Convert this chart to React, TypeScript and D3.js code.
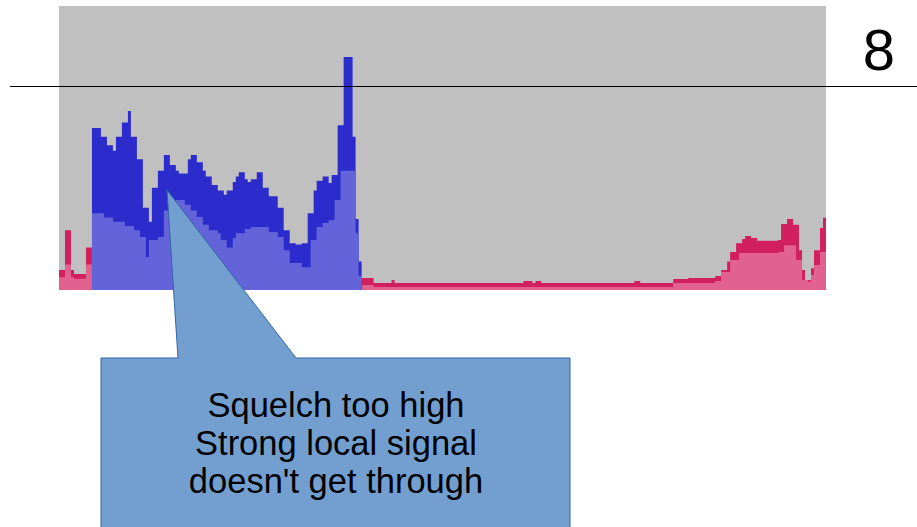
import React from 'react';
import * as d3 from 'd3';

// spectrum bins (0..256) and levels (0..100)
const binCount = 256;

const blueMaxBins = [11, 14, 16, 18, 19, 21, 23, 24, 26, 28, 30, 31, 33, 35, 37, 39, 40, 43, 44, 46, 48, 49, 51, 53, 55, 56, 58, 59, 60, 62, 63, 64, 66, 68, 70, 73, 75, 77, 79, 81, 83, 85, 86, 88, 90, 91, 92, 93, 95, 98, 99, 100, 101];
const blueMaxLevels = [57, 54, 51, 49, 54, 59, 63, 54, 46, 29, 24, 36, 42, 47.5, 44, 42, 41, 46, 47.5, 45, 42, 40, 37, 35, 33.5, 35, 38, 40, 41.5, 39, 38, 39, 41.5, 36, 33, 29, 21, 16.5, 16, 16.5, 27, 35, 38.5, 40, 37.7, 40.5, 40.5, 58, 82, 54, 25, 10, 0];

const blueAvgBins = [11, 15, 18, 22, 25, 27, 29, 30, 33, 35, 37, 39, 42, 44, 46, 48, 50, 53, 54, 56, 58, 59, 62, 64, 70, 73, 75, 77, 81, 84, 86, 88, 90, 92, 94, 98, 99, 100, 101];
const blueAvgLevels = [27, 25.5, 24, 22.5, 21, 18.7, 11.6, 17.6, 18.7, 28, 30.5, 31.7, 30, 28, 25.7, 23, 21, 20, 17.6, 15, 18.3, 20, 21.5, 22.2, 20.4, 18.7, 14, 9.5, 8, 17.6, 22.2, 23.6, 24.6, 31.7, 42, 42, 20, 5, 0];

const pinkMaxBins = [0, 2, 4, 5, 9, 11, 101, 105, 111, 112, 155, 158, 159, 161, 192, 194, 205, 210, 219, 221, 223, 224, 226, 228, 229, 231, 233, 240, 241, 243, 245, 247, 248, 249, 251, 252, 254, 255];
const pinkMaxLevels = [7, 21, 7, 5.6, 15, 3.5, 4.2, 2.5, 3.5, 2.5, 3.2, 2.5, 3.2, 2.5, 3.2, 2.5, 3.9, 4.2, 4.9, 7, 10, 13.4, 16.5, 18, 19, 18.3, 17.3, 17.6, 23.2, 25, 23, 14, 7, 3.5, 7.7, 14, 21.8, 25.4];

const pinkAvgBins = [0, 2, 4, 5, 9, 11, 101, 105, 205, 219, 221, 224, 227, 240, 242, 246, 248, 250, 251, 252, 254];
const pinkAvgLevels = [4.5, 9, 4.5, 4, 9, 0, 1.8, 1.1, 2.5, 3.2, 6.3, 10.6, 13, 13.4, 15.8, 10.6, 3.5, 3, 5.3, 8.8, 13.4];

const pageNumber = '8';
const calloutLines = ['Squelch too high', 'Strong local signal', "doesn't get through"];

type Pt = [number, number];
const zip = (b: number[], v: number[], closeAtEnd: boolean): Pt[] => {
  const pts: Pt[] = b.map((bin, i) => [bin, v[i]]);
  if (closeAtEnd) pts.push([binCount, v[v.length - 1]]);
  return pts;
};

export default function App() {
  const W = 917;
  const H = 527;
  const x = d3.scaleLinear().domain([0, binCount]).range([59, 826]);
  const y = d3.scaleLinear().domain([0, 100]).range([290, 6]);
  const area = d3
    .area<Pt>()
    .x((d) => x(d[0]))
    .y0(y(0))
    .y1((d) => y(d[1]))
    .curve(d3.curveStepAfter);

  const pinkMax = zip(pinkMaxBins, pinkMaxLevels, true);
  const pinkAvg = zip(pinkAvgBins, pinkAvgLevels, true);
  const blueMax = zip(blueMaxBins, blueMaxLevels, false);
  const blueAvg = zip(blueAvgBins, blueAvgLevels, false);

  const font = "'Liberation Sans', Arial, sans-serif";

  // callout geometry
  const boxL = 101, boxR = 570, boxT = 358, boxB = 540;
  const tipX = 167, tipY = 190, baseL = 178, baseR = 296;
  const callout = `M${boxL},${boxT} L${baseL},${boxT} L${tipX},${tipY} L${baseR},${boxT} L${boxR},${boxT} L${boxR},${boxB} L${boxL},${boxB} Z`;

  return (
    <svg width={W} height={H} style={{ position: 'fixed', left: 0, top: 0, background: '#fff' }}>
      <rect x={x(0)} y={y(100)} width={x(binCount) - x(0)} height={y(0) - y(100)} fill="#c0c0c0" />
      <path d={area(pinkMax) || ''} fill="#d2205f" />
      <path d={area(pinkAvg) || ''} fill="#e2628f" />
      <path d={area(blueMax) || ''} fill="#2c2ccc" />
      <path d={area(blueAvg) || ''} fill="#6464da" />
      <line x1={10} x2={917} y1={86.5} y2={86.5} stroke="#000" strokeWidth={1} shapeRendering="crispEdges" />
      <text x={879} y={70} fontFamily={font} fontSize={58} textAnchor="middle" fill="#000">
        {pageNumber}
      </text>
      <path d={callout} fill="#729fcf" stroke="#3465a4" strokeWidth={1} />
      {calloutLines.map((t, i) => (
        <text key={i} x={336} y={417 + i * 38} fontFamily={font} fontSize={34.5} textAnchor="middle" fill="#000">
          {t}
        </text>
      ))}
    </svg>
  );
}
